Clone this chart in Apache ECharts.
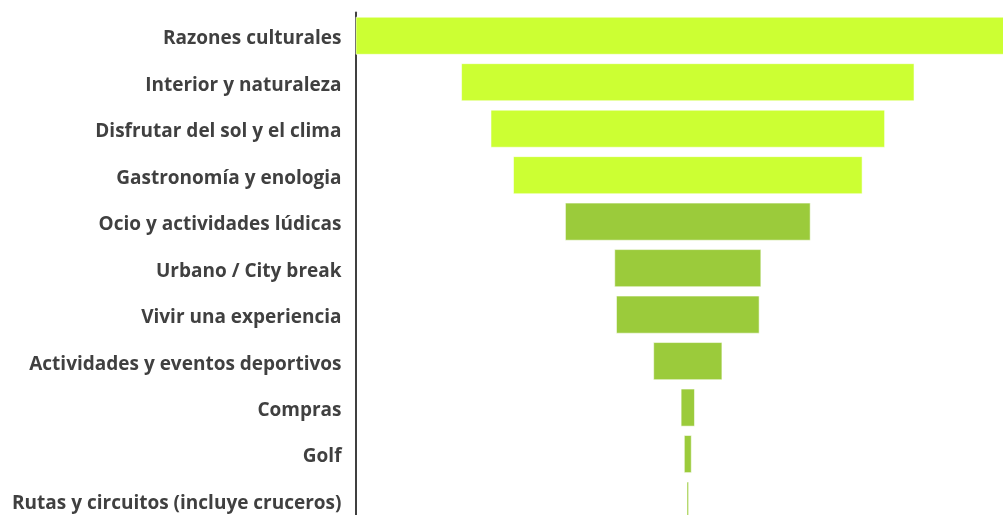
<!DOCTYPE html>
<html>
<head>
<meta charset="utf-8">
<script src="https://cdn.jsdelivr.net/npm/echarts@6/dist/echarts.min.js"></script>
<style>
  html, body { margin: 0; padding: 0; background: #ffffff; }
  #chart { width: 1003px; height: 515px; }
</style>
</head>
<body>
<div id="chart"></div>
<script>
// Motivos del viaje (% de turistas)
const categories = [
  'Razones culturales',
  'Interior y naturaleza',
  'Disfrutar del sol y el clima',
  'Gastronomía y enologia',
  'Ocio y actividades lúdicas',
  'Urbano / City break',
  'Vivir una experiencia',
  'Actividades y eventos deportivos',
  'Compras',
  'Golf',
  'Rutas y circuitos (incluye cruceros)'
];
const values = [38.4, 26.2, 22.8, 20.2, 14.2, 8.5, 8.3, 4.0, 0.83, 0.46, 0.15];

// first four motives in bright lime, the rest in a deeper green
const topColor = '#CCFF33';
const restColor = '#9BCB3B';
const topCount = 4;

const maxValue = Math.max(...values);
// transparent spacer so every bar is centred on the same vertical line
const spacer = values.map(v => (maxValue - v) / 2);

const chart = echarts.init(document.getElementById('chart'), null, { renderer: 'canvas' });
chart.setOption({
  animation: false,
  backgroundColor: '#ffffff',
  grid: {
    left: 355.5, top: 12.5, width: 664.6, height: 511.3,
    containLabel: false,
    outerBoundsMode: 'none'
  },
  xAxis: {
    type: 'value',
    min: 0,
    max: maxValue,
    show: false
  },
  yAxis: {
    type: 'category',
    data: categories,
    inverse: true,
    axisLine: { show: true, lineStyle: { color: '#404040', width: 2 } },
    axisTick: { show: false },
    splitLine: { show: false },
    axisLabel: {
      margin: 14,
      formatter: name => '{lbl|' + name + '}',
      rich: {
        lbl: {
          padding: [6, 0, 0, 0],
          color: '#404040',
          fontFamily: 'Open Sans',
          fontWeight: 'bold',
          fontSize: 19
        }
      }
    }
  },
  series: [
    {
      type: 'bar',
      stack: 'funnel',
      data: spacer,
      itemStyle: { color: 'transparent' },
      silent: true,
      barCategoryGap: '18%'
    },
    {
      type: 'bar',
      stack: 'funnel',
      barCategoryGap: '18%',
      data: values.map((v, i) => ({
        value: v,
        itemStyle: { color: i < topCount ? topColor : restColor }
      })),
      itemStyle: { borderColor: 'rgba(255,255,255,0.55)', borderWidth: 1 }
    }
  ]
});
</script>
</body>
</html>
